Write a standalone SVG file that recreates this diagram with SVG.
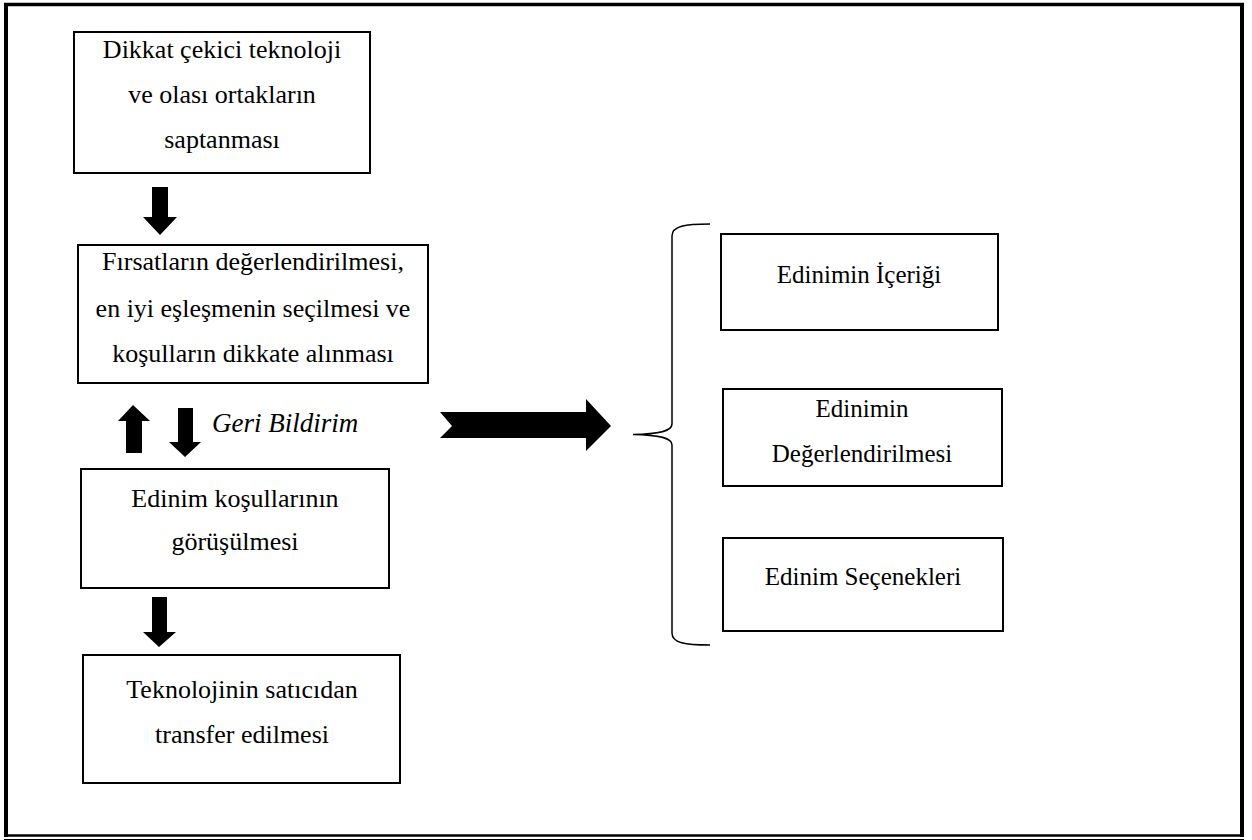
<svg xmlns="http://www.w3.org/2000/svg" width="1252" height="840" viewBox="0 0 1252 840">
<style>
.box{fill:#fff;stroke:#000;stroke-width:2}
.t{font-family:"Liberation Serif","Times New Roman",serif;font-size:26px;fill:#000;text-anchor:middle}
.tr{font-family:"Liberation Serif","Times New Roman",serif;font-size:25px;fill:#000;text-anchor:middle}
.it{font-family:"Liberation Serif","Times New Roman",serif;font-size:27px;font-style:italic;fill:#000}
.arr{fill:#000;stroke:none}
.brace{fill:none;stroke:#000;stroke-width:1.5}
</style>
<rect width="1252" height="840" fill="#fff"/>
<g id="frame" stroke="#000" fill="none">
<line x1="6" y1="3" x2="6" y2="837" stroke-width="4"/>
<line x1="4" y1="4.5" x2="1244" y2="4.5" stroke-width="3.5"/>
<line x1="1242" y1="3" x2="1242" y2="837" stroke-width="4"/>
<line x1="4" y1="835.5" x2="1244" y2="835.5" stroke-width="2.5"/>
<line x1="4" y1="839.5" x2="1244" y2="839.5" stroke-width="1"/>
</g>
<g id="connectors">
<polygon class="arr" points="152,187 168,187 168,217 177,217 160,235 143,217 152,217"/>
<polygon class="arr" points="133,405 150,421 142,421 142,453 126,453 126,421 118,421"/>
<polygon class="arr" points="178,408 193,408 193,442 201,442 185,457 169,442 178,442"/>
<polygon class="arr" points="152,597 167,597 167,632 176,632 159,647 143,632 152,632"/>
<polygon class="arr" points="440,412 586,412 586,399 611,426 586,451 586,438 440,438 452,426"/>
<path class="brace" d="M710,224 C685,224 672,226 672,236 L672,424 C672,431 660,434 633,434.5 C660,435 672,438 672,445 L672,633 C672,643 685,645 710,645"/>
</g>
<g id="n1">
<rect class="box" x="74" y="32" width="296" height="141"/>
<text class="t" x="222" y="58">Dikkat çekici teknoloji</text>
<text class="t" x="222" y="103">ve olası ortakların</text>
<text class="t" x="222" y="148">saptanması</text>
</g>
<g id="n2">
<rect class="box" x="78" y="245" width="350" height="138"/>
<text class="t" x="253" y="270">Fırsatların değerlendirilmesi,</text>
<text class="t" x="253" y="317">en iyi eşleşmenin seçilmesi ve</text>
<text class="t" x="253" y="362">koşulların dikkate alınması</text>
</g>
<g id="feedback">
<text class="it" x="212" y="432">Geri Bildirim</text>
</g>
<g id="n3">
<rect class="box" x="81" y="469" width="308" height="119"/>
<text class="t" x="235" y="507">Edinim koşullarının</text>
<text class="t" x="235" y="550">görüşülmesi</text>
</g>
<g id="n4">
<rect class="box" x="83" y="655" width="317" height="128"/>
<text class="t" x="242" y="698">Teknolojinin satıcıdan</text>
<text class="t" x="242" y="743">transfer edilmesi</text>
</g>
<g id="r1">
<rect class="box" x="721" y="234" width="277" height="96"/>
<text class="tr" x="859" y="283">Edinimin İçeriği</text>
</g>
<g id="r2">
<rect class="box" x="723" y="389" width="279" height="97"/>
<text class="tr" x="862" y="417">Edinimin</text>
<text class="tr" x="862" y="462">Değerlendirilmesi</text>
</g>
<g id="r3">
<rect class="box" x="723" y="538" width="280" height="93"/>
<text class="tr" x="863" y="585">Edinim Seçenekleri</text>
</g>
</svg>
